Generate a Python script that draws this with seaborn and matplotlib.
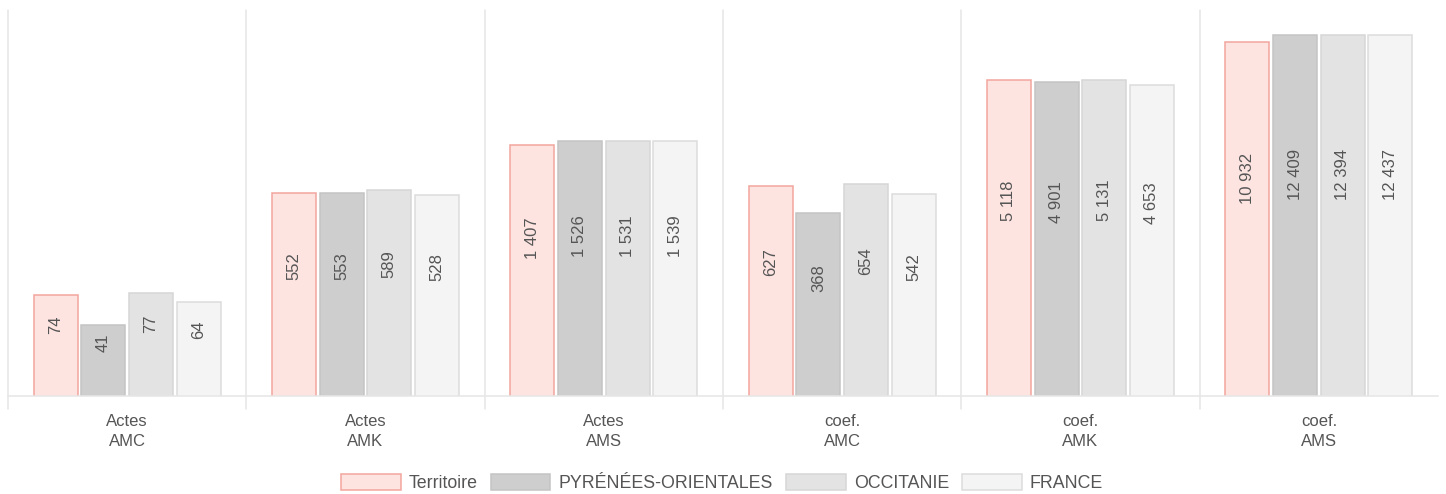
"""
Bar chart: actes / coefficients per territory (log scale)
"""
import numpy as np
import pandas as pd
import matplotlib
matplotlib.use('Agg')
import matplotlib.pyplot as plt
import seaborn as sns

# Data
categories = ['Actes\nAMC', 'Actes\nAMK', 'Actes\nAMS', 'coef.\nAMC', 'coef.\nAMK', 'coef.\nAMS']
series = ['Territoire', 'PYRÉNÉES-ORIENTALES', 'OCCITANIE', 'FRANCE']
territoire = [74, 552, 1407, 627, 5118, 10932]
pyrenees = [41, 553, 1526, 368, 4901, 12409]
occitanie = [77, 589, 1531, 654, 5131, 12394]
france = [64, 528, 1539, 542, 4653, 12437]

fills = ['#fde4e1', '#cecece', '#e3e3e3', '#f4f4f4']
edges = ['#f2a59e', '#c4c4c4', '#d6d6d6', '#dcdcdc']
text_color = '#555555'
line_color = '#e6e6e6'

rows = []
for name, vals in zip(series, [territoire, pyrenees, occitanie, france]):
    for cat, v in zip(categories, vals):
        rows.append({'categorie': cat, 'serie': name, 'valeur': v})
df = pd.DataFrame(rows)

sns.set_style('white')
plt.rcParams['font.family'] = ['Liberation Sans', 'DejaVu Sans']

fig = plt.figure(figsize=(14.46, 4.94), dpi=100)
ax = fig.add_axes([8 / 1446, 1 - 396 / 494, 1430 / 1446, 386 / 494])

sns.barplot(data=df, x='categorie', y='valeur', hue='serie', order=categories,
            hue_order=series, palette=fills, saturation=1, width=0.8, gap=0.08,
            legend=False, ax=ax)
ax.set_yscale('log')

# bar edges per series; start bars below the axis floor so log scale can draw them
n_cat = len(categories)
all_vals = [territoire, pyrenees, occitanie, france]
for i, patch in enumerate(ax.patches):
    v = all_vals[i // n_cat][i % n_cat]
    patch.set_y(1)
    patch.set_height(v - 1)
    patch.set_edgecolor(edges[i // n_cat])
    patch.set_linewidth(1.1)

ax.set_ylim(10, 20400)
ax.set_xlim(-0.5, n_cat - 0.5)

# value labels, rotated inside the bars
lo = np.log10(10)
hi = np.log10(20400)
px_per_dec = 386 / (hi - lo)
for i, patch in enumerate(ax.patches):
    v = all_vals[i // n_cat][i % n_cat]
    h = (np.log10(v) - lo) * px_per_dec
    y = 10 ** (lo + (0.58 * h + 12) / px_per_dec)
    x = patch.get_x() + patch.get_width() / 2
    ax.text(x, y, f'{v:,}'.replace(',', ' '), rotation=90, ha='center', va='center',
            fontsize=12, color=text_color)

# axes styling
for side in ['top', 'right', 'left']:
    ax.spines[side].set_visible(False)
ax.spines['bottom'].set_color(line_color)
ax.spines['bottom'].set_linewidth(1.1)
ax.set_yticks([])
ax.minorticks_off()
ax.set_xlabel('')
ax.set_ylabel('')
ax.set_xticks(range(n_cat))
ax.set_xticklabels(categories, fontsize=12, color=text_color, linespacing=1.4)
ax.tick_params(axis='x', which='major', length=0, pad=13)

# group separators: vertical lines running a little below the baseline
bounds = np.arange(n_cat) - 0.5
for b in bounds:
    ax.axvline(b, ymin=-13 / 386, ymax=1, color=line_color, linewidth=1.1,
               zorder=0, clip_on=False)

# legend
handles = [plt.Rectangle((0, 0), 1, 1, facecolor=f, edgecolor=e, linewidth=1.1)
           for f, e in zip(fills, edges)]
fig.legend(handles, series, loc='center', bbox_to_anchor=(722 / 1446, 1 - 483 / 494),
           ncol=4, frameon=False, fontsize=12.8, handlelength=3.35, handleheight=1.0,
           handletextpad=0.45, columnspacing=0.75, labelcolor=text_color)

fig.savefig('out.png', dpi=100, facecolor='white')
